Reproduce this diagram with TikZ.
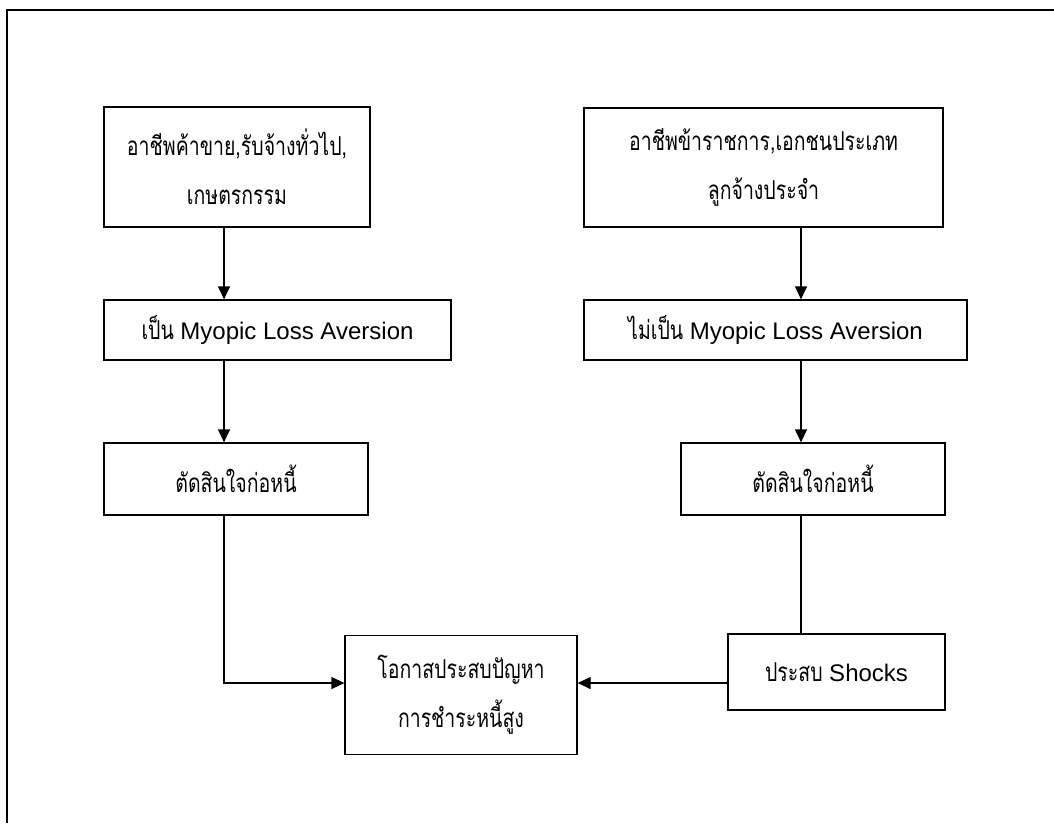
\documentclass[tikz,border=0pt]{standalone}
\usepackage{fontspec}
\newfontfamily\thaifont[Script=Thai, FakeStretch=0.75]{Loma}
\newfontfamily\latinfont{Liberation Sans}
\newcommand{\lat}[1]{{\latinfont\fontsize{24}{48}\selectfont #1}}
\usetikzlibrary{arrows.meta}
\begin{document}
\begin{tikzpicture}[x=1pt,y=-1pt,
  box/.style={draw=black, line width=1.3pt, rectangle, inner sep=0pt,
    align=center, font=\thaifont\fontsize{26}{49}\selectfont},
  flow/.style={line width=1.3pt},
  arr/.style={flow, -{Triangle[length=13pt,width=12pt]}}]
  \useasboundingbox (0,0) rectangle (1054,823);
  % page frame
  \draw[line width=2.5pt] (7,823) -- (7,10) -- (1054,10);

  % left column
  \node[box, minimum width=266pt, minimum height=120pt] (b1) at (237,167)
    {อาชีพค้าขาย,รับจ้างทั่วไป,\\เกษตรกรรม};
  \node[box, minimum width=347pt, minimum height=60pt] (b2) at (277.5,330)
    {เป็น \lat{Myopic Loss Aversion}};
  \node[box, minimum width=264pt, minimum height=72pt] (b3) at (236,479)
    {ตัดสินใจก่อหนี้};

  % right column
  \node[box, minimum width=359pt, minimum height=119pt] (r1) at (763.5,167.5)
    {อาชีพข้าราชการ,เอกชนประเภท\\ลูกจ้างประจำ};
  \node[box, minimum width=383pt, minimum height=60pt] (r2) at (775.5,330)
    {ไม่เป็น \lat{Myopic Loss Aversion}};
  \node[box, minimum width=264pt, minimum height=72pt] (r3) at (813,479)
    {ตัดสินใจก่อหนี้};
  \node[box, minimum width=217pt, minimum height=76pt] (r4) at (836.5,672)
    {ประสบ \lat{Shocks}};

  % outcome
  \node[box, minimum width=232pt, minimum height=119pt] (c) at (461,695)
    {โอกาสประสบปัญหา\\การชำระหนี้สูง};

  % connectors
  \draw[arr] (224,0 |- b1.south) -- (224,0 |- b2.north);
  \draw[arr] (224,0 |- b2.south) -- (224,0 |- b3.north);
  \draw[arr] (801,0 |- r1.south) -- (801,0 |- r2.north);
  \draw[arr] (801,0 |- r2.south) -- (801,0 |- r3.north);
  \draw[flow] (801,0 |- r3.south) -- (801,0 |- r4.north);
  \draw[arr] (224,0 |- b3.south) -- (224,683) -- (c.west |- 0,683);
  \draw[arr] (r4.west |- 0,683) -- (c.east |- 0,683);
\end{tikzpicture}
\end{document}
